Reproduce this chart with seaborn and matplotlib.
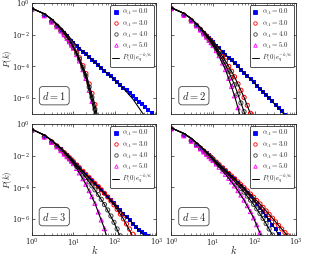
import numpy as np
import matplotlib
matplotlib.use("Agg")
import matplotlib.pyplot as plt
from matplotlib.lines import Line2D
import seaborn as sns

# degree grid for the simulation points and for the fitted curves
K = [1, 2, 3, 4, 5, 6, 7, 8, 9, 10, 12, 14, 17, 20, 24, 28, 33, 40, 47, 56,
     67, 80, 95, 113, 135, 160, 190, 225, 270, 320, 380, 450, 540, 640, 760]
KF = [1, 2, 3, 5, 8, 12, 20, 33, 56, 95, 160, 270, 450, 760]

ALPHAS = ["0.0", "3.0", "4.0", "5.0"]

# log10 P(k)
d1_a0 = [-0.4, -0.78, -1.15, -1.45, -1.7, -1.9, -2.1, -2.3, -2.42, -2.52, -2.71, -2.87, -3.06, -3.22,
         -3.41, -3.57, -3.74, -3.93, -4.09, -4.28, -4.46, -4.63, -4.81, -4.98, -5.17, -5.33, -5.51,
         -5.68, -5.87, -6.04, -6.21, -6.38, -6.57, -6.75, -6.92]
d1_a3 = [-0.4, -0.78, -1.15, -1.45, -1.72, -1.95, -2.15, -2.35, -2.55, -2.75, -3.1, -3.45, -3.95,
         -4.45, -5.1, -5.7, -6.4, -7.2]
d1_a4 = [-0.4, -0.79, -1.17, -1.47, -1.74, -1.98, -2.18, -2.4, -2.6, -2.8, -3.18, -3.55, -4.08,
         -4.6, -5.3, -5.95, -6.7, -7.6]
d1_a5 = [-0.4, -0.8, -1.2, -1.5, -1.76, -2.0, -2.22, -2.44, -2.65, -2.85, -3.25, -3.65, -4.2,
         -4.75, -5.5, -6.2, -7.0]

d2_a0 = [-0.35, -0.75, -1.1, -1.4, -1.65, -1.88, -2.05, -2.2, -2.35, -2.47, -2.68, -2.86, -3.08,
         -3.26, -3.45, -3.62, -3.8, -4.0, -4.2, -4.4, -4.6, -4.8, -5.0, -5.2, -5.4, -5.6, -5.8,
         -6.0, -6.2, -6.42, -6.62, -6.82, -7.05]
d2_a3 = [-0.35, -0.75, -1.1, -1.4, -1.66, -1.9, -2.08, -2.25, -2.4, -2.55, -2.8, -3.05, -3.38,
         -3.65, -4.0, -4.3, -4.65, -5.1, -5.5, -5.95, -6.45, -6.95, -7.5]
d2_a4 = [-0.35, -0.76, -1.11, -1.42, -1.68, -1.92, -2.11, -2.3, -2.45, -2.6, -2.9, -3.18, -3.55,
         -3.9, -4.3, -4.7, -5.15, -5.75, -6.3, -6.85, -7.5]
d2_a5 = [-0.35, -0.77, -1.13, -1.44, -1.7, -1.95, -2.15, -2.35, -2.5, -2.68, -3.0, -3.32, -3.78,
         -4.2, -4.75, -5.25, -5.85, -6.6, -7.3]

d3_a0 = [-0.4, -0.8, -1.12, -1.38, -1.6, -1.8, -1.97, -2.12, -2.25, -2.38, -2.6, -2.78, -3.0, -3.2,
         -3.4, -3.58, -3.76, -3.98, -4.18, -4.38, -4.58, -4.8, -5.0, -5.22, -5.44, -5.65, -5.86,
         -6.06, -6.28, -6.48, -6.66, -6.82, -6.96, -7.08]
d3_a3 = [-0.4, -0.8, -1.12, -1.38, -1.6, -1.8, -1.97, -2.12, -2.25, -2.37, -2.58, -2.76, -2.98,
         -3.17, -3.38, -3.56, -3.75, -3.95, -4.15, -4.37, -4.6, -4.85, -5.1, -5.38, -5.68, -5.98,
         -6.3, -6.62, -6.95, -7.3]
d3_a4 = [-0.4, -0.81, -1.14, -1.41, -1.64, -1.85, -2.02, -2.18, -2.32, -2.45, -2.68, -2.9, -3.15,
         -3.38, -3.65, -3.9, -4.15, -4.45, -4.75, -5.08, -5.42, -5.8, -6.2, -6.62, -7.05]
d3_a5 = [-0.4, -0.82, -1.16, -1.44, -1.68, -1.9, -2.06, -2.2, -2.35, -2.5, -2.8, -3.08, -3.45,
         -3.8, -4.2, -4.58, -5.0, -5.55, -6.05, -6.6, -7.2]

d4_a0 = [-0.3, -0.72, -1.05, -1.3, -1.52, -1.7, -1.85, -1.98, -2.1, -2.2, -2.4, -2.56, -2.77,
         -2.94, -3.14, -3.31, -3.49, -3.7, -3.9, -4.1, -4.32, -4.55, -4.78, -5.02, -5.27, -5.52,
         -5.78, -6.05, -6.35, -6.65, -6.95, -7.3]
d4_a3 = [-0.3, -0.72, -1.05, -1.3, -1.52, -1.7, -1.85, -1.98, -2.1, -2.2, -2.4, -2.56, -2.76,
         -2.93, -3.12, -3.28, -3.45, -3.65, -3.83, -4.02, -4.22, -4.42, -4.62, -4.83, -5.04, -5.26,
         -5.48, -5.7, -5.94, -6.17, -6.4, -6.62, -6.85, -7.05]
d4_a4 = [-0.3, -0.73, -1.06, -1.32, -1.54, -1.73, -1.88, -2.02, -2.14, -2.25, -2.45, -2.62, -2.84,
         -3.02, -3.23, -3.42, -3.62, -3.85, -4.07, -4.3, -4.55, -4.8, -5.07, -5.35, -5.65, -5.95,
         -6.28, -6.62, -7.0]
d4_a5 = [-0.3, -0.74, -1.08, -1.34, -1.57, -1.76, -1.92, -2.06, -2.19, -2.3, -2.52, -2.72, -2.96,
         -3.17, -3.42, -3.65, -3.9, -4.2, -4.48, -4.8, -5.15, -5.52, -5.92, -6.35, -6.85, -7.35]

# fitted curves P(0) e_q^{-k/kappa}, log10, on KF
fit_d1 = [
    [-0.33, -0.68, -1.0, -1.55, -2.15, -2.68, -3.22, -3.75, -4.28, -4.82, -5.38, -6.05, -6.9, -7.6],
    [-0.33, -0.68, -1.02, -1.62, -2.3, -3.1, -4.45, -6.4, -9.0],
    [-0.33, -0.68, -1.02, -1.63, -2.33, -3.17, -4.6, -6.7, -9.0],
    [-0.33, -0.68, -1.03, -1.65, -2.35, -3.22, -4.75, -7.0, -9.0],
]
fit_d2 = [
    [-0.3, -0.65, -0.98, -1.55, -2.15, -2.65, -3.25, -3.8, -4.4, -5.0, -5.6, -6.22, -6.85, -7.5],
    [-0.3, -0.65, -0.98, -1.56, -2.2, -2.8, -3.65, -4.65, -5.95, -7.5],
    [-0.3, -0.65, -0.99, -1.57, -2.25, -2.9, -3.9, -5.15, -6.85, -9.0],
    [-0.3, -0.65, -1.0, -1.6, -2.3, -3.0, -4.2, -5.85, -8.0],
]
fit_d3 = [
    [-0.33, -0.7, -1.02, -1.52, -2.05, -2.58, -3.18, -3.76, -4.38, -5.0, -5.65, -6.28, -6.9, -7.5],
    [-0.33, -0.7, -1.02, -1.52, -2.05, -2.58, -3.18, -3.76, -4.37, -5.1, -5.98, -7.1],
    [-0.33, -0.7, -1.03, -1.55, -2.12, -2.68, -3.38, -4.15, -5.08, -6.2, -7.6],
    [-0.33, -0.7, -1.05, -1.58, -2.18, -2.8, -3.8, -5.0, -6.6, -9.0],
]
fit_d4 = [
    [-0.25, -0.6, -0.9, -1.4, -1.92, -2.4, -2.93, -3.45, -4.1, -4.78, -5.52, -6.35, -7.3],
    [-0.25, -0.6, -0.9, -1.4, -1.92, -2.4, -2.93, -3.45, -4.02, -4.62, -5.26, -5.94, -6.62, -7.3],
    [-0.25, -0.6, -0.91, -1.42, -1.95, -2.45, -3.02, -3.62, -4.3, -5.07, -5.95, -7.0],
    [-0.25, -0.6, -0.92, -1.44, -1.98, -2.52, -3.17, -3.9, -4.8, -5.92, -7.35],
]

panels = [
    ("1", [d1_a0, d1_a3, d1_a4, d1_a5], fit_d1),
    ("2", [d2_a0, d2_a3, d2_a4, d2_a5], fit_d2),
    ("3", [d3_a0, d3_a3, d3_a4, d3_a5], fit_d3),
    ("4", [d4_a0, d4_a3, d4_a4, d4_a5], fit_d4),
]

# marker, colour, filled
styles = [("s", "#0000ff", True), ("o", "#ff0000", False),
          ("o", "#444444", False), ("^", "#ff00ff", False)]

sns.set_style("ticks")
plt.rcParams["font.family"] = ["DejaVu Serif"]
plt.rcParams["mathtext.fontset"] = "cm"

fig, axes = plt.subplots(2, 2, figsize=(3.12, 2.56), dpi=100, sharex=True, sharey=True)
fig.subplots_adjust(left=0.102, right=0.949, top=0.988, bottom=0.082, wspace=0.12, hspace=0.09)

for ax, (d, series, fits) in zip(axes.flat, panels):
    ax.set_xscale("log")
    ax.set_yscale("log")
    for vals, (m, c, filled) in zip(series, styles):
        x = K[:len(vals)]
        y = 10 ** np.array(vals)
        if filled:
            sns.scatterplot(x=x, y=y, ax=ax, marker=m, color=c, s=10, linewidth=0, zorder=2)
        else:
            sns.scatterplot(x=x, y=y, ax=ax, marker=m, s=9, facecolor="none",
                            edgecolor=c, linewidth=0.7, zorder=2)
    for fv in fits:
        sns.lineplot(x=KF[:len(fv)], y=10 ** np.array(fv), ax=ax, color="black",
                     lw=0.8, estimator=None, sort=False, zorder=3)

    ax.set_xlim(1, 1000)
    ax.set_ylim(1e-7, 1)
    ax.set_xticks([1, 10, 100, 1000])
    ax.set_yticks([1, 1e-2, 1e-4, 1e-6])
    ax.tick_params(which="both", direction="in", top=True, right=True, labelsize=5, pad=1.5)
    ax.tick_params(which="major", length=2.5, width=0.5)
    ax.tick_params(which="minor", length=1.3, width=0.4)
    for sp in ax.spines.values():
        sp.set_linewidth(0.6)

    ax.text(0.18, 0.165, "$d=" + d + "$", transform=ax.transAxes, fontsize=7.5,
            ha="center", va="center",
            bbox=dict(boxstyle="round,pad=0.3", fc="white", ec="#444444", lw=0.6))

    handles = []
    for a, (m, c, filled) in zip(ALPHAS, styles):
        handles.append(Line2D([], [], ls="none", marker=m, ms=2.5,
                              mfc=c if filled else "none", mec=c, mew=0.6,
                              label=r"$\alpha_A=" + a + "$"))
    handles.append(Line2D([], [], color="black", lw=0.7, label=r"$P(0)e_q^{-k/\kappa}$"))
    leg = ax.legend(handles=handles, loc="upper right", fontsize=5, frameon=True,
                    handlelength=1.0, handletextpad=0.4, borderpad=0.3, labelspacing=0.15,
                    borderaxespad=0.3, fancybox=True)
    leg.get_frame().set_edgecolor("black")
    leg.get_frame().set_linewidth(0.6)

for ax in axes[:, 0]:
    ax.set_ylabel("$P(k)$", fontsize=6.5)
    ax.yaxis.set_label_coords(-0.14, 0.5)
for ax in axes[1, :]:
    ax.set_xlabel("$k$", fontsize=7.5)
    ax.xaxis.set_label_coords(0.5, -0.075)

fig.savefig("out.png", dpi=100)
